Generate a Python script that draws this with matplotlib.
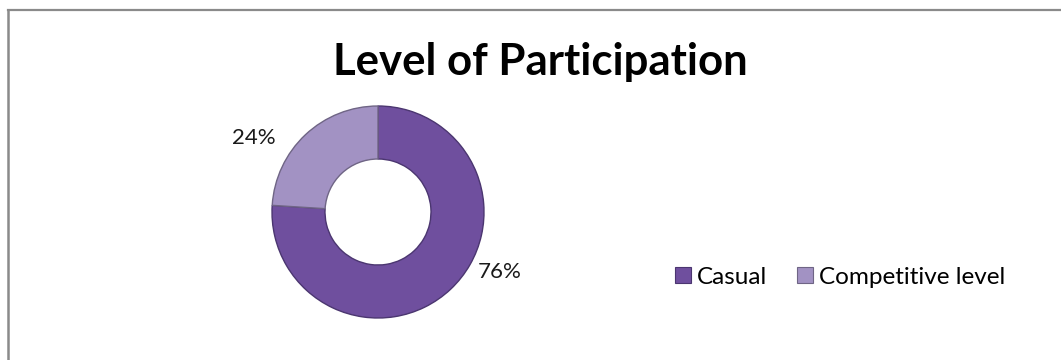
import matplotlib
matplotlib.use("Agg")
import matplotlib.pyplot as plt
from matplotlib.lines import Line2D
from matplotlib.patches import Patch

# Data
categories = ["Casual", "Competitive level"]
shares = [76, 24]
colors = ["#6f4f9e", "#a292c3"]
edge_colors = ["#4b3670", "#6f6585"]
title = "Level of Participation"

W, H, DPI = 1061, 360, 100
fig = plt.figure(figsize=(W / DPI, H / DPI), dpi=DPI)
fig.patch.set_facecolor("white")

# chart frame: top and left edges
fig.add_artist(Line2D([8 / W, 1.0], [1 - 10 / H, 1 - 10 / H], color="#8a8a8a", lw=1.6,
                      transform=fig.transFigure))
fig.add_artist(Line2D([8 / W, 8 / W], [1 - 10 / H, 0.0], color="#8a8a8a", lw=1.8,
                      transform=fig.transFigure))

# donut axes: center (378, 212) px, radius 106 px
cx, cy, r = 378, 212, 106
ax = fig.add_axes([(cx - r) / W, (H - cy - r) / H, 2 * r / W, 2 * r / H])
wedges, _ = ax.pie(shares, colors=colors, startangle=90, counterclock=False, radius=1.0,
                   wedgeprops=dict(width=0.5, linewidth=1.0))
for w, ec in zip(wedges, edge_colors):
    w.set_edgecolor(ec)
ax.set_xlim(-1, 1)
ax.set_ylim(-1, 1)
ax.set_aspect("equal")
ax.axis("off")

font = "Lato"

# percentage labels
label_pos = [(1.15, -0.57), (-1.17, 0.70)]
for v, (lx, ly) in zip(shares, label_pos):
    ax.text(lx, ly, f"{v}%", ha="center", va="center", fontsize=16,
            family=font, color="#1a1a1a", clip_on=False)

# title
fig.text(540 / W, 1 - 75 / H, title, ha="center", va="baseline", fontsize=31.5,
         fontweight="bold", family=font, color="black")

# legend
handles = [Patch(facecolor=c, edgecolor=ec, linewidth=0.8) for c, ec in zip(colors, edge_colors)]
fig.legend(handles, categories, loc="center left", bbox_to_anchor=(653 / W, 1 - 277 / H),
           ncol=2, frameon=False, prop=dict(family=font, size=17.5),
           handlelength=0.65, handleheight=0.65, handletextpad=0.25, columnspacing=1.25)

fig.savefig("out.png", dpi=DPI, facecolor="white")
